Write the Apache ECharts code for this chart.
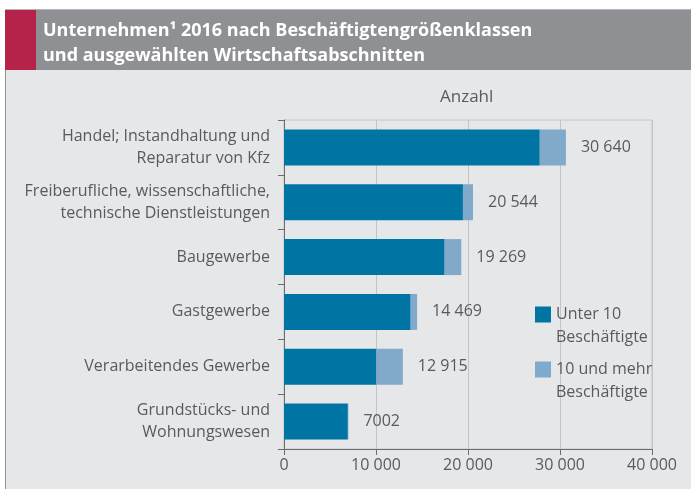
<!DOCTYPE html>
<html>
<head>
<meta charset="utf-8">
<script src="https://cdn.jsdelivr.net/npm/echarts@6/dist/echarts.min.js"></script>
<style>
  html, body { margin: 0; padding: 0; background: #fff; }
  #chart { width: 691px; height: 489px; }
</style>
</head>
<body>
<div id="chart"></div>
<script>
// Daten
var categories = [
    'Handel; Instandhaltung und\nReparatur von Kfz',
    'Freiberufliche, wissenschaftliche,\ntechnische Dienstleistungen',
    'Baugewerbe',
    'Gastgewerbe',
    'Verarbeitendes Gewerbe',
    'Grundstücks- und\nWohnungswesen'
];
var seriesNames = ['Unter 10\nBeschäftigte', '10 und mehr\nBeschäftigte'];
var unter10 = [27800, 19450, 17460, 13770, 10040, 6940];
var ab10 = [2840, 1094, 1809, 699, 2875, 62];
var totals = [30640, 20544, 19269, 14469, 12915, 7002];
var xTicks = [0, 10000, 20000, 30000, 40000];

var grey = '#595a5c';

function fmt(v) {
    // Tausendertrennung erst ab 5 Stellen
    if (v < 10000) return String(v);
    return String(v).replace(/\B(?=(\d{3})+(?!\d))/g, ' ');
}

function legendCfg(name, top) {
    return {
        data: [name],
        orient: 'vertical',
        left: 530,
        top: top,
        icon: 'rect',
        itemWidth: 16,
        itemHeight: 16,
        selectedMode: false,
        // leere erste Zeile, damit das Kästchen an der ersten Textzeile sitzt
        formatter: function (n) { return '\n' + n; },
        textStyle: { color: grey, fontSize: 16, lineHeight: 23 }
    };
}

var myChart = echarts.init(document.getElementById('chart'));

var option = {
    backgroundColor: '#e6e7e9',
    textStyle: { fontFamily: 'Open Sans' },
    animation: false,
    graphic: [
        { type: 'rect', shape: { x: 0, y: 0, width: 691, height: 9 }, style: { fill: '#ffffff' }, z: -10 },
        { type: 'rect', shape: { x: 0, y: 0, width: 5, height: 489 }, style: { fill: '#ffffff' }, z: -10 },
        { type: 'rect', shape: { x: 5, y: 9, width: 686, height: 61 }, style: { fill: '#8f9093' }, z: -9 },
        { type: 'rect', shape: { x: 5, y: 9, width: 686, height: 1 }, style: { fill: '#b4b5b7' }, z: -8 },
        { type: 'rect', shape: { x: 5, y: 10, width: 31, height: 60 }, style: { fill: '#b5234a' }, z: -8 },
        { type: 'rect', shape: { x: 5, y: 70, width: 1, height: 419 }, style: { fill: '#8f9093' }, z: -8 }
    ],
    title: [
        {
            text: 'Unternehmen¹ 2016 nach Beschäftigtengrößenklassen\nund ausgewählten Wirtschaftsabschnitten',
            left: 38,
            top: 13,
            textStyle: {
                color: '#ffffff',
                fontSize: 18,
                fontWeight: 'bold',
                lineHeight: 25,
                fontFamily: 'Open Sans'
            }
        },
        {
            text: 'Anzahl',
            left: 435,
            top: 84,
            textStyle: { color: grey, fontSize: 17, fontWeight: 'normal', fontFamily: 'Open Sans' }
        }
    ],
    legend: [
        legendCfg(seriesNames[0], 275),
        legendCfg(seriesNames[1], 330)
    ],
    grid: {
        left: 284,
        right: 39,
        top: 120,
        bottom: 40,
        show: true,
        borderColor: '#c3c4c6',
        borderWidth: 1,
        backgroundColor: 'transparent'
    },
    xAxis: {
        type: 'value',
        min: xTicks[0],
        max: xTicks[xTicks.length - 1],
        interval: 10000,
        axisLine: { show: true, lineStyle: { color: '#6b6c6e' } },
        axisTick: { show: true, length: 6, lineStyle: { color: '#6b6c6e' } },
        splitLine: { show: true, lineStyle: { color: '#c3c4c6' } },
        axisLabel: { color: grey, fontSize: 16, margin: 8, formatter: function (v) { return fmt(v); } }
    },
    yAxis: {
        type: 'category',
        inverse: true,
        data: categories,
        axisLine: { show: true, lineStyle: { color: '#6b6c6e' } },
        axisTick: { show: true, length: 6, lineStyle: { color: '#6b6c6e' } },
        axisLabel: { color: grey, fontSize: 16, lineHeight: 22, margin: 14 }
    },
    series: [
        {
            name: seriesNames[0],
            type: 'bar',
            stack: 'total',
            barWidth: 36,
            itemStyle: { color: '#0074a3' },
            data: unter10
        },
        {
            name: seriesNames[1],
            type: 'bar',
            stack: 'total',
            barWidth: 36,
            itemStyle: { color: '#80a9ca' },
            label: {
                show: true,
                position: 'right',
                distance: 15,
                color: grey,
                fontSize: 16,
                formatter: function (p) { return fmt(totals[p.dataIndex]); }
            },
            data: ab10
        }
    ]
};

myChart.setOption(option);
</script>
</body>
</html>
